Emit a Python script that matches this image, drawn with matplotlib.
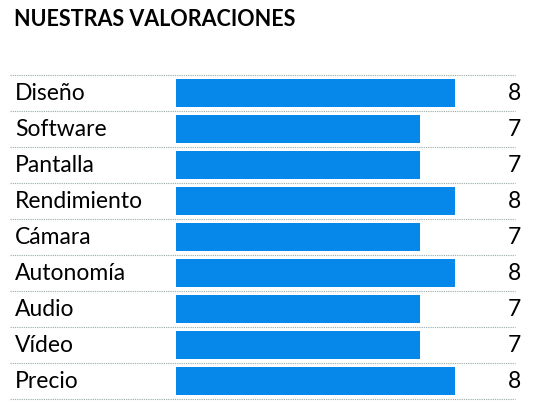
import matplotlib
matplotlib.use("Agg")
import matplotlib.pyplot as plt

categories = ["Diseño", "Software", "Pantalla", "Rendimiento", "Cámara", "Autonomía", "Audio", "Vídeo", "Precio"]
values = [8, 7, 7, 8, 7, 8, 7, 7, 8]
title = "NUESTRAS VALORACIONES"

plt.rcParams['font.family'] = ['Lato', 'DejaVu Sans']
fig = plt.figure(figsize=(5.44, 4.07), dpi=100)
ax = fig.add_axes([0, 0, 1, 1])
ax.set_xlim(-176/34.875, (544-176)/34.875)
ax.set_ylim((407-93)/36, -93/36)
ax.axis('off')

ys = list(range(len(categories)))
ax.barh(ys, values, height=0.8, color='#0588EA', left=0)
for y, c, v in zip(ys, categories, values):
    ax.text(-161/34.875, y + 0.02, c, va='center', ha='left', fontsize=16.5, color='black')
    ax.text((521-176)/34.875, y + 0.02, str(v), va='center', ha='right', fontsize=16.5, color='black')
for i in range(len(categories) + 1):
    ax.plot([-166/34.875, (515-176)/34.875], [i - 0.5, i - 0.5], color='#9aa8a8', lw=0.8, ls=(0, (1, 1)))
ax.text(-162/34.875, (20-93)/36, title, va='center', ha='left', fontsize=15.5, fontweight='bold')
fig.savefig('out.png', dpi=100)
